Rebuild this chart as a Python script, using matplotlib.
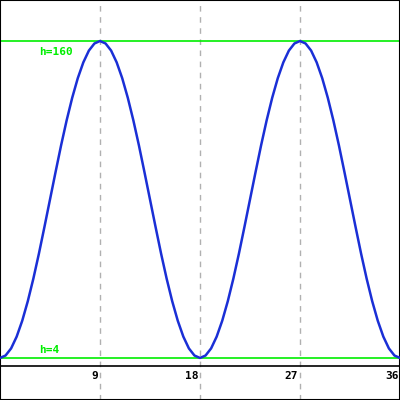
import matplotlib
matplotlib.use("Agg")
import matplotlib.pyplot as plt
import numpy as np

# heights, every half unit from 0 to 36
t = np.arange(0, 36.5, 0.5)
h = [4, 5.2, 8.7, 14.5, 22.3, 31.9, 43, 55.3, 68.5, 82, 95.5, 108.7, 121,
     132.1, 141.7, 149.5, 155.3, 158.8, 160, 158.8, 155.3, 149.5, 141.7,
     132.1, 121, 108.7, 95.5, 82, 68.5, 55.3, 43, 31.9, 22.3, 14.5, 8.7, 5.2,
     4, 5.2, 8.7, 14.5, 22.3, 31.9, 43, 55.3, 68.5, 82, 95.5, 108.7, 121,
     132.1, 141.7, 149.5, 155.3, 158.8, 160, 158.8, 155.3, 149.5, 141.7,
     132.1, 121, 108.7, 95.5, 82, 68.5, 55.3, 43, 31.9, 22.3, 14.5, 8.7, 5.2,
     4]
xticks = [9, 18, 27, 36]
h_min, h_max = 4, 160

fig = plt.figure(figsize=(4, 4), dpi=100)
ax = fig.add_axes([0, 0, 1, 1])
ax.set_xlim(0, 36)
ax.set_ylim(-16.7, 180.2)

for x in xticks:
    ax.axvline(x, color="#b0b0b0", lw=1, ls=(0, (4, 4)), zorder=1)

ax.axhline(0, color="black", lw=1.2, zorder=2)
ax.axhline(h_min, color="#00ee00", lw=1.2, zorder=2)
ax.axhline(h_max, color="#00ee00", lw=1.2, zorder=2)

ax.plot(t, h, color="#1a2fd6", lw=1.8, zorder=3)

font = dict(family="DejaVu Sans Mono", weight="bold", fontsize=8)
ax.text(3.5, h_max - 3, "h=160", color="#00ee00", va="top", ha="left", **font)
ax.text(3.5, h_min + 1.5, "h=4", color="#00ee00", va="bottom", ha="left", **font)
for x in xticks:
    ax.text(x - 0.15, -2.5, str(x), color="black", va="top", ha="right", **font)

ax.set_xticks([])
ax.set_yticks([])
for s in ax.spines.values():
    s.set_color("black")
    s.set_linewidth(1.5)

fig.savefig("out.png", dpi=100)
